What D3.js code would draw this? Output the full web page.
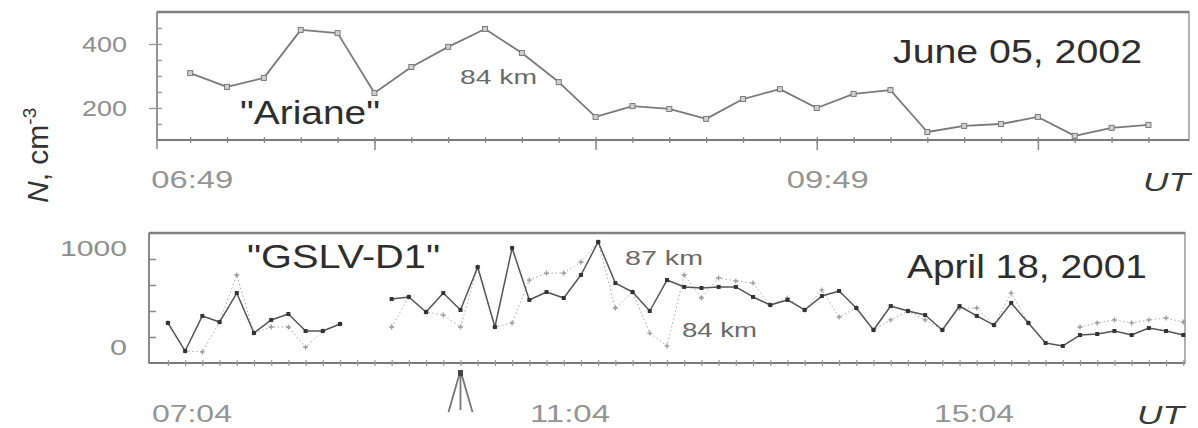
<!DOCTYPE html>
<html><head><meta charset="utf-8">
<script src="https://cdn.jsdelivr.net/npm/d3@7"></script>
<style>
body{margin:0;background:#fff;}
svg{display:block;font-family:"Liberation Sans",Arial,sans-serif;}
</style>
</head><body>
<script>
// ---------------- DATA ----------------
const topTimes = ["06:59","07:09","07:19","07:29","07:39","07:49","07:59","08:09","08:19","08:29","08:39","08:49","08:59","09:09","09:19","09:29","09:39","09:49","09:59","10:09","10:19","10:29","10:39","10:49","10:59","11:09","11:19"];
const topValues = [309,266,294,444,434,247,328,391,447,372,281,172,206,197,166,228,259,200,244,256,125,144,150,172,113,138,147];
const topMajorTimes = ["07:49","08:49","09:49","10:49"];
const topTimeLabels = ["06:49","09:49"];
const topYLabels = [200,400];
const topYMinor = [150,250,300,350,450];

const botTimes = ["07:04","07:14","07:24","07:34","07:44","07:54","08:04","08:14","08:24","08:34","08:44","08:54","09:04","09:14","09:24","09:34","09:44","09:54","10:04","10:14","10:24","10:34","10:44","10:54","11:04","11:14","11:24","11:34","11:44","11:54","12:04","12:14","12:24","12:34","12:44","12:54","13:04","13:14","13:24","13:34","13:44","13:54","14:04","14:14","14:24","14:34","14:44","14:54","15:04","15:14","15:24","15:34","15:44","15:54","16:04","16:14","16:24","16:34","16:44","16:54"];
const bot87km = [308,92,362,315,538,231,331,377,246,246,300,null,null,492,508,392,538,408,738,277,885,485,546,500,677,931,615,546,400,638,585,577,585,585,508,446,485,408,515,554,423,254,438,400,369,254,438,362,292,462,308,154,131,215,223,246,215,269,246,215];
const bot84km = [308,92,85,315,677,231,277,277,123,246,300,null,null,277,508,392,369,277,738,277,308,638,692,692,777,931,423,546,230,131,677,500,654,631,615,446,500,408,562,354,423,254,331,400,331,254,423,423,292,538,308,null,null,277,308,331,308,331,346,315];
const botTimeLabels = ["07:04","11:04","15:04"];
const botYLabels = [1000,0];
const botYMinor = [200,400,600,800];
const launchTime = "09:54";

// ---------------- HELPERS ----------------
const toMin = s => { const p = s.split(":").map(Number); return p[0]*60 + p[1]; };
const W = 1198, H = 428;
const svg = d3.select("body").append("svg").attr("width", W).attr("height", H);

function label(x, y, s, o) {
  const t = svg.append("text").attr("x", x).attr("y", y).text(s)
    .attr("font-size", o.size).attr("fill", o.fill || "#333")
    .attr("text-anchor", o.anchor || "start");
  if (o.len) t.attr("textLength", o.len).attr("lengthAdjust", "spacingAndGlyphs");
  if (o.italic) t.attr("font-style", "italic");
  return t;
}

// ---------------- TOP PANEL ----------------
const T = {left:157, right:1189, top:12, bottom:140};
const xT = d3.scaleLinear().domain([toMin("06:50"), toMin("11:30")]).range([T.left, T.right]);
const yT = d3.scaleLinear().domain([100, 500]).range([T.bottom, T.top]);

const gT = svg.append("g");
gT.append("rect").attr("x", T.left).attr("y", T.top).attr("width", T.right - T.left).attr("height", T.bottom - T.top)
  .attr("fill", "none").attr("stroke", "#999").attr("stroke-width", 1.5);
gT.append("line").attr("x1", T.left).attr("x2", T.right).attr("y1", T.top).attr("y2", T.top).attr("stroke", "#808080").attr("stroke-width", 2.5);
gT.append("line").attr("x1", T.left).attr("x2", T.right).attr("y1", T.bottom).attr("y2", T.bottom).attr("stroke", "#7a7a7a").attr("stroke-width", 2);
gT.append("line").attr("x1", T.left).attr("x2", T.left).attr("y1", T.top).attr("y2", T.bottom + 9).attr("stroke", "#8a8a8a").attr("stroke-width", 1.5);

function styleAxis(g, col, w) {
  g.select(".domain").remove();
  g.selectAll("line").attr("stroke", col).attr("stroke-width", w);
  g.selectAll("text").remove();
}
gT.append("g").attr("transform", `translate(0,${T.bottom})`)
  .call(d3.axisBottom(xT).tickValues(topTimes.map(toMin)).tickSize(3)).call(g => styleAxis(g, "#888", 1.3));
gT.append("g").attr("transform", `translate(0,${T.bottom})`)
  .call(d3.axisTop(xT).tickValues(topTimes.map(toMin)).tickSize(3)).call(g => styleAxis(g, "#888", 1.3));
gT.append("g").attr("transform", `translate(0,${T.bottom})`)
  .call(d3.axisBottom(xT).tickValues(topMajorTimes.map(toMin)).tickSize(10)).call(g => styleAxis(g, "#888", 1.5));
gT.append("g").attr("transform", `translate(${T.left},0)`)
  .call(d3.axisLeft(yT).tickValues(topYMinor).tickSize(-5)).call(g => styleAxis(g, "#999", 1.3));
gT.append("g").attr("transform", `translate(${T.left},0)`)
  .call(d3.axisLeft(yT).tickValues(topYLabels).tickSize(8)).call(g => styleAxis(g, "#999", 1.3));
gT.append("g").attr("transform", `translate(${T.left},0)`)
  .call(d3.axisLeft(yT).tickValues(topYLabels).tickSize(-5)).call(g => styleAxis(g, "#999", 1.3));

const topData = topTimes.map((t, i) => ({t: toMin(t), v: topValues[i]}));
gT.append("path").datum(topData)
  .attr("d", d3.line().x(d => xT(d.t)).y(d => yT(d.v)))
  .attr("fill", "none").attr("stroke", "#7a7a7a").attr("stroke-width", 1.8).attr("stroke-linejoin", "round");
gT.selectAll("rect.m").data(topData).enter().append("rect").attr("class", "m")
  .attr("x", d => xT(d.t) - 2.5).attr("y", d => yT(d.v) - 2.5).attr("width", 5).attr("height", 5)
  .attr("fill", "#d0d0d0").attr("stroke", "#7a7a7a").attr("stroke-width", 1);

topYLabels.forEach(v => label(T.left - 30, yT(v) + 8, String(v), {size: 22, fill: "#8e8e8e", anchor: "end", len: 45}));
const topLabelDx = {"06:49": 39, "09:49": 11};
topTimeLabels.forEach(s => label(xT(toMin(s)) + topLabelDx[s], 188, s, {size: 24, fill: "#959595", anchor: "middle", len: 82}));
label(1190, 191, "UT", {size: 25, fill: "#3a3a3a", anchor: "end", italic: true, len: 47});
label(240, 124, "\"Ariane\"", {size: 33, fill: "#2e2e2e", len: 140});
label(893, 63, "June 05, 2002", {size: 33, fill: "#2e2e2e", len: 249});
label(460, 84, "84 km", {size: 21, fill: "#6a6a6a", len: 77});

// ---------------- BOTTOM PANEL ----------------
const B = {left:149, right:1185, top:233, bottom:363};
const xB = d3.scaleLinear().domain([toMin("06:53"), toMin("16:55")]).range([B.left, B.right]);
const yB = d3.scaleLinear().domain([0, 1000]).range([B.bottom, B.top]);
const gB = svg.append("g");
gB.append("rect").attr("x", B.left).attr("y", B.top).attr("width", B.right - B.left).attr("height", B.bottom - B.top)
  .attr("fill", "none").attr("stroke", "#999").attr("stroke-width", 1.5);
gB.append("line").attr("x1", B.left).attr("x2", B.right).attr("y1", B.top).attr("y2", B.top).attr("stroke", "#808080").attr("stroke-width", 2.5);
gB.append("line").attr("x1", B.left).attr("x2", B.right).attr("y1", B.bottom).attr("y2", B.bottom).attr("stroke", "#7a7a7a").attr("stroke-width", 2);
gB.append("line").attr("x1", B.left).attr("x2", B.left).attr("y1", B.top).attr("y2", B.bottom).attr("stroke", "#8a8a8a").attr("stroke-width", 2);

gB.append("g").attr("transform", `translate(0,${B.bottom})`)
  .call(d3.axisBottom(xB).tickValues(botTimes.map(toMin)).tickSize(3)).call(g => styleAxis(g, "#999", 1.2));
gB.append("g").attr("transform", `translate(0,${B.bottom})`)
  .call(d3.axisTop(xB).tickValues(botTimes.map(toMin)).tickSize(3)).call(g => styleAxis(g, "#999", 1.2));
gB.append("g").attr("transform", `translate(${B.left},0)`)
  .call(d3.axisLeft(yB).tickValues(botYMinor).tickSize(-7)).call(g => styleAxis(g, "#888", 1.5));

const b87 = botTimes.map((t, i) => ({t: toMin(t), v: bot87km[i]}));
const b84 = botTimes.map((t, i) => ({t: toMin(t), v: bot84km[i]}));
const lineB = d3.line().defined(d => d.v != null).x(d => xB(d.t)).y(d => yB(d.v));

gB.append("path").datum(b84).attr("d", lineB)
  .attr("fill", "none").attr("stroke", "#a8a8a8").attr("stroke-width", 1).attr("stroke-dasharray", "1.5,2.5");
gB.selectAll("path.p84").data(b84.filter(d => d.v != null)).enter().append("path").attr("class", "p84")
  .attr("transform", d => `translate(${xB(d.t)},${yB(d.v)})`)
  .attr("d", "M-2.5,0H2.5M0,-2.5V2.5").attr("stroke", "#999").attr("stroke-width", 1.3);

gB.append("path").datum(b87).attr("d", lineB)
  .attr("fill", "none").attr("stroke", "#555").attr("stroke-width", 1.5).attr("stroke-linejoin", "round");
gB.selectAll("rect.m87").data(b87.filter(d => d.v != null)).enter().append("rect").attr("class", "m87")
  .attr("x", d => xB(d.t) - 2).attr("y", d => yB(d.v) - 2).attr("width", 4).attr("height", 4)
  .attr("fill", "#333");

const botYdy = {1000: 23, 0: -8};
const botYlen = {1000: 67, 0: 17};
botYLabels.forEach(v => label(B.left - 22, yB(v) + botYdy[v], String(v), {size: 22, fill: "#8e8e8e", anchor: "end", len: botYlen[v]}));
const botLabelDx = {"07:04": 24, "11:04": -11, "15:04": -20};
botTimeLabels.forEach(s => label(xB(toMin(s)) + botLabelDx[s], 422, s, {size: 24, fill: "#959595", anchor: "middle", len: 80}));
label(1184, 424, "UT", {size: 25, fill: "#3a3a3a", anchor: "end", italic: true, len: 47});
label(247, 268, "\"GSLV-D1\"", {size: 33, fill: "#2e2e2e", len: 193});
label(907, 278, "April 18, 2001", {size: 33, fill: "#2e2e2e", len: 240});
label(625, 265, "87 km", {size: 20, fill: "#6a6a6a", len: 78});
label(682, 337, "84 km", {size: 20, fill: "#6a6a6a", len: 75});

const ax = xB(toMin(launchTime));
svg.append("path")
  .attr("d", `M${ax},373V410M${ax-1},374L${ax-12},412M${ax+1},374L${ax+12},412`)
  .attr("fill", "none").attr("stroke", "#777").attr("stroke-width", 1.8);
svg.append("rect").attr("x", ax - 2.5).attr("y", 370).attr("width", 5).attr("height", 6).attr("fill", "#444");

const yt = svg.append("text").attr("transform", "translate(48,203) rotate(-90)")
  .attr("font-size", 30).attr("fill", "#333");
yt.append("tspan").attr("font-style", "italic").text("N");
yt.append("tspan").text(", cm");
yt.append("tspan").attr("font-size", 19).attr("dy", -12).text("-3");
</script>
</body></html>
